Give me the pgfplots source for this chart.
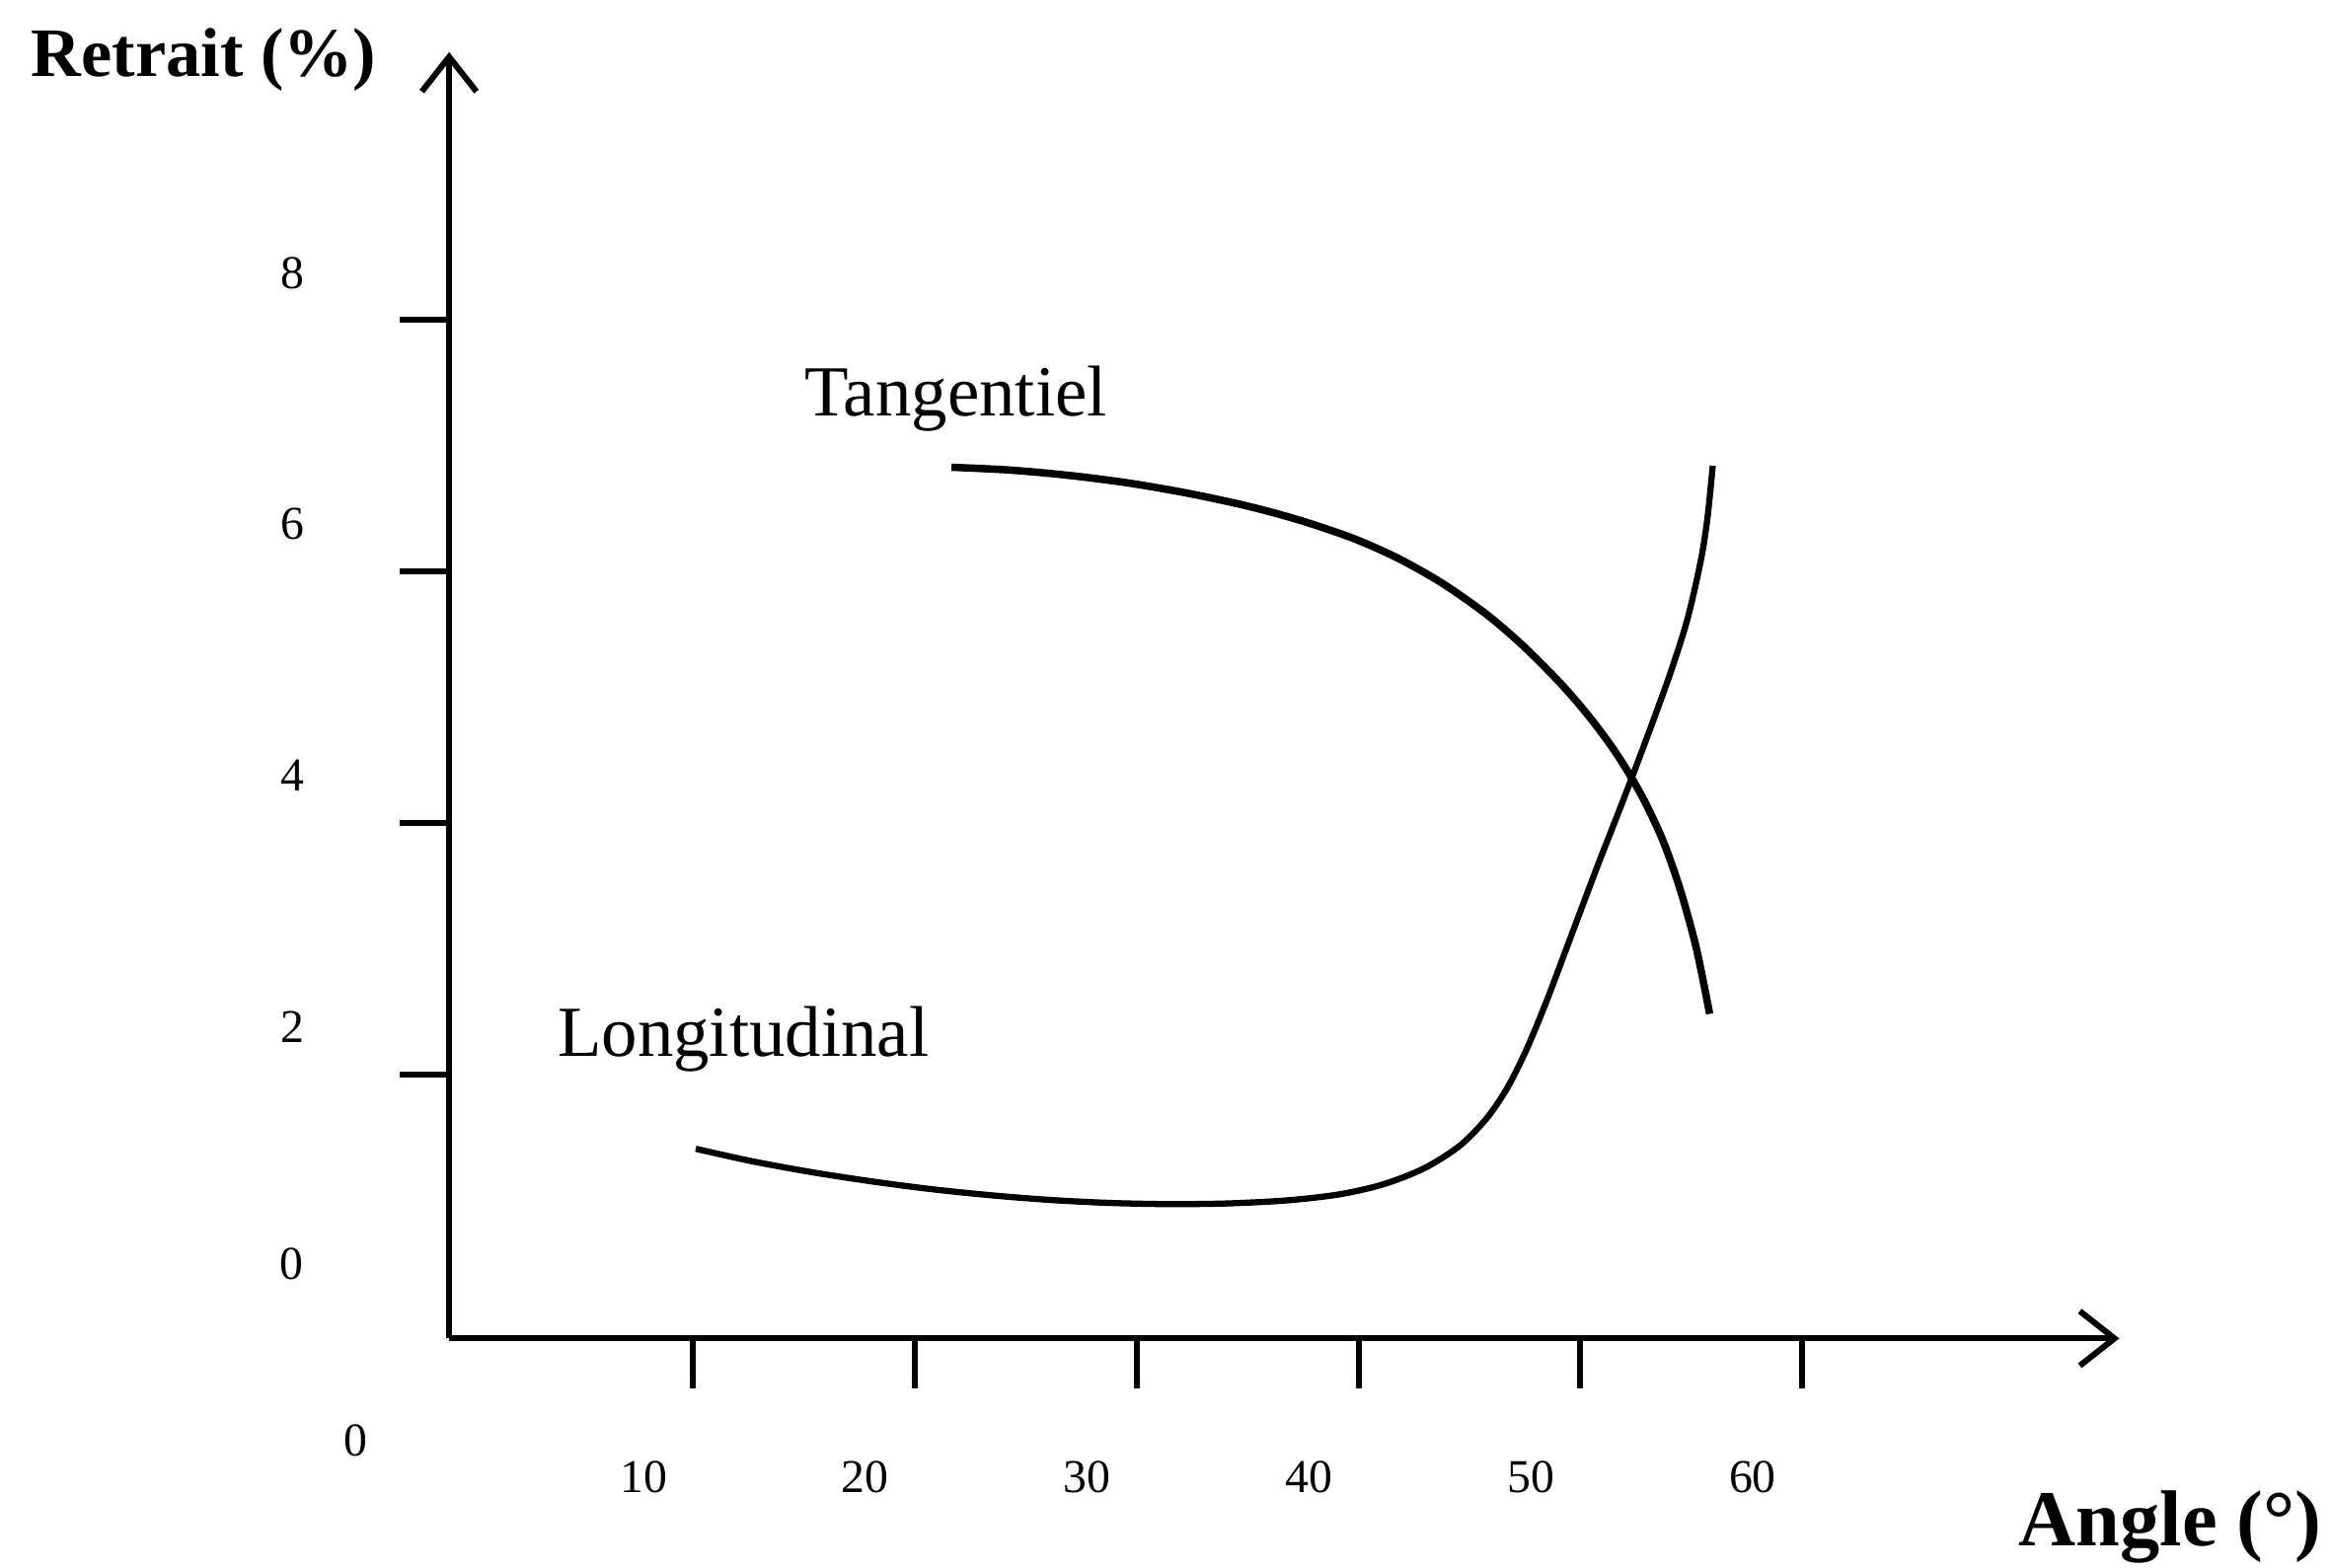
\documentclass[border=0pt]{standalone}
\usepackage{fontspec}
\setmainfont{Liberation Serif}
\usepackage{pgfplots}
\pgfplotsset{compat=1.18}
\usetikzlibrary{arrows.meta}
\begin{document}
\begin{tikzpicture}
\path[use as bounding box] (-90.6pt,-46.2pt) rectangle (379.8pt,270pt);
\begin{axis}[
  at={(0,0)}, anchor=south west,
  scale only axis, width=336.9pt, height=259.5pt,
  xmin=-1, xmax=74.3, ymin=-0.1, ymax=10.13,
  axis lines=left,
  axis line style={line width=1.2pt, -{Straight Barb[length=7pt,width=11pt,line width=1.2pt]}},
  xtick={10,20,...,60}, ytick={2,4,6,8},
  tick align=outside, major tick length=10pt,
  tick style={line width=1.2pt, black},
  ticklabel style={font=\fontsize{9.5}{10}\selectfont},
  /pgf/number format/assume math mode=true,
  yticklabel style={anchor=center, xshift=-21.5pt, yshift=9.5pt},
  xticklabel style={anchor=center, xshift=-10pt, yshift=-18pt},
  clip=false,
]
\addplot[line width=1.5pt, smooth, black] coordinates {
(21.65,6.828) (24.33,6.805) (27.01,6.762) (29.69,6.701) (32.37,6.619) (35.05,6.517)
(37.40,6.404) (39.75,6.263) (41.76,6.106) (43.77,5.906) (45.78,5.657) (47.45,5.403)
(49.13,5.105) (50.47,4.829) (51.68,4.537) (52.75,4.221) (53.69,3.873) (54.49,3.477)
(55.23,3.003) (55.83,2.481)};
\addplot[line width=1.25pt, smooth, black] coordinates {
(10.12,1.408) (12.60,1.311) (15.28,1.224) (17.96,1.151) (20.64,1.089) (23.32,1.040)
(26.01,1.002) (28.69,0.978) (31.37,0.968) (34.05,0.973) (36.73,0.997) (39.08,1.044)
(41.09,1.124) (42.96,1.253) (44.57,1.433) (45.78,1.651) (46.72,1.896) (47.59,2.204)
(48.46,2.574) (49.26,2.947) (50.07,3.328) (50.87,3.701) (51.68,4.065) (52.48,4.432)
(53.28,4.810) (54.09,5.207) (54.83,5.621) (55.43,6.084) (55.73,6.422) (55.97,6.840)};
\node[font=\fontsize{9.5}{10}\selectfont] at (axis cs:-5.2,-0.91) {0};
\node[font=\fontsize{9.5}{10}\selectfont] at (axis cs:-8.1,0.49) {0};
\node[font=\bfseries\fontsize{14}{16}\selectfont] at (axis cs:-12.06,10.07) {Retrait (\%)};
\node[font=\bfseries\fontsize{16}{18}\selectfont] at (axis cs:76.6,-1.6) {Angle (°)};
\node[font=\fontsize{14.5}{16}\selectfont] at (axis cs:21.85,7.37) {Tangentiel};
\node[font=\fontsize{14.5}{16}\selectfont] at (axis cs:12.27,2.28) {Longitudinal};
\end{axis}
\end{tikzpicture}
\end{document}
